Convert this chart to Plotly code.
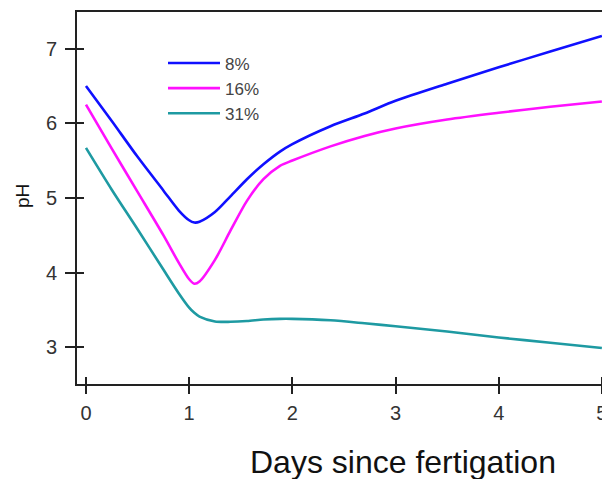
import plotly.graph_objects as go

days = [0, 0.25, 0.5, 0.75, 0.9, 1.0, 1.05, 1.1, 1.25, 1.4, 1.56, 1.72, 1.88, 2.0, 2.37, 2.7, 3.0, 3.5, 4.0, 4.5, 5.0]
ph_8 = [6.50, 6.03, 5.55, 5.10, 4.83, 4.70, 4.67, 4.68, 4.81, 5.02, 5.25, 5.45, 5.62, 5.72, 5.96, 6.13, 6.30, 6.53, 6.75, 6.96, 7.17]
ph_16 = [6.25, 5.66, 5.08, 4.50, 4.13, 3.91, 3.85, 3.88, 4.17, 4.56, 4.96, 5.25, 5.43, 5.50, 5.69, 5.83, 5.93, 6.05, 6.14, 6.22, 6.29]
ph_31 = [5.67, 5.11, 4.58, 4.04, 3.72, 3.53, 3.46, 3.41, 3.345, 3.34, 3.35, 3.37, 3.38, 3.38, 3.36, 3.32, 3.28, 3.21, 3.13, 3.06, 2.99]

series_names = ["8%", "16%", "31%"]
series_values = [ph_8, ph_16, ph_31]
colors = ["#1010ff", "#ff10ff", "#1e9aa2"]

x_ticks = [0, 1, 2, 3, 4, 5]
y_ticks = [3, 4, 5, 6, 7]

FONT = "Liberation Sans, Arial, sans-serif"

fig = go.Figure()
for name, vals, col in zip(series_names, series_values, colors):
    fig.add_trace(go.Scatter(x=days, y=vals, mode="lines", name=name,
                             line=dict(color=col, width=2.6, shape="spline", smoothing=0.8)))

# invisible helper trace so the overlay axes draw the inner half of crossing ticks
fig.add_trace(go.Scatter(x=[], y=[], xaxis="x2", yaxis="y2", showlegend=False, hoverinfo="skip"))

axis_col = "#222222"
tick_font = dict(family=FONT, size=20, color="#333333")

# page body has an 8px margin: figure is sized so the plot area lands at x 77..606, y 10..384
fig.update_layout(
    width=602, height=471,
    margin=dict(l=69, r=4, t=2, b=95),
    paper_bgcolor="white", plot_bgcolor="white",
    showlegend=True,
    legend=dict(x=(163 - 77) / 529, y=0.91, xanchor="left", yanchor="top",
                font=dict(family=FONT, size=17, color="#444444"),
                bgcolor="rgba(0,0,0,0)", tracegroupgap=0, itemwidth=52),
    xaxis=dict(range=[-0.087, 5.04], tickvals=x_ticks, ticktext=[str(t) for t in x_ticks],
               ticks="outside", ticklen=8, tickwidth=2, tickcolor=axis_col,
               showline=True, linecolor=axis_col, linewidth=2, mirror=True,
               showgrid=False, zeroline=False, tickfont=tick_font, ticklabelstandoff=2),
    yaxis=dict(range=[2.507, 7.49], tickvals=y_ticks, ticktext=[str(t) for t in y_ticks],
               ticks="outside", ticklen=10, tickwidth=2, tickcolor=axis_col,
               showline=True, linecolor=axis_col, linewidth=2,
               showgrid=False, zeroline=False, tickfont=tick_font, ticklabelstandoff=4),
    xaxis2=dict(overlaying="x", matches="x", tickvals=x_ticks, ticks="inside", ticklen=7, tickwidth=2,
                tickcolor=axis_col, showticklabels=False, showline=False, showgrid=False, zeroline=False,
                side="bottom"),
    yaxis2=dict(overlaying="y", matches="y", tickvals=y_ticks, ticks="inside", ticklen=7, tickwidth=2,
                tickcolor=axis_col, showticklabels=False, showline=False, showgrid=False, zeroline=False,
                side="left"),
)

fig.add_annotation(text="pH", xref="paper", yref="paper", textangle=-90,
                   x=(22 - 77) / 529, y=1 - (195 - 10) / 374, xanchor="center", yanchor="middle",
                   showarrow=False, font=dict(family=FONT, size=19, color="#111111"))

fig.add_annotation(text="Days since fertigation", xref="paper", yref="paper",
                   x=(403 - 77) / 529, y=-(462 - 384) / 374, xanchor="center", yanchor="middle",
                   showarrow=False, font=dict(family=FONT, size=32, color="#111111"))

fig.write_html("out.html")
